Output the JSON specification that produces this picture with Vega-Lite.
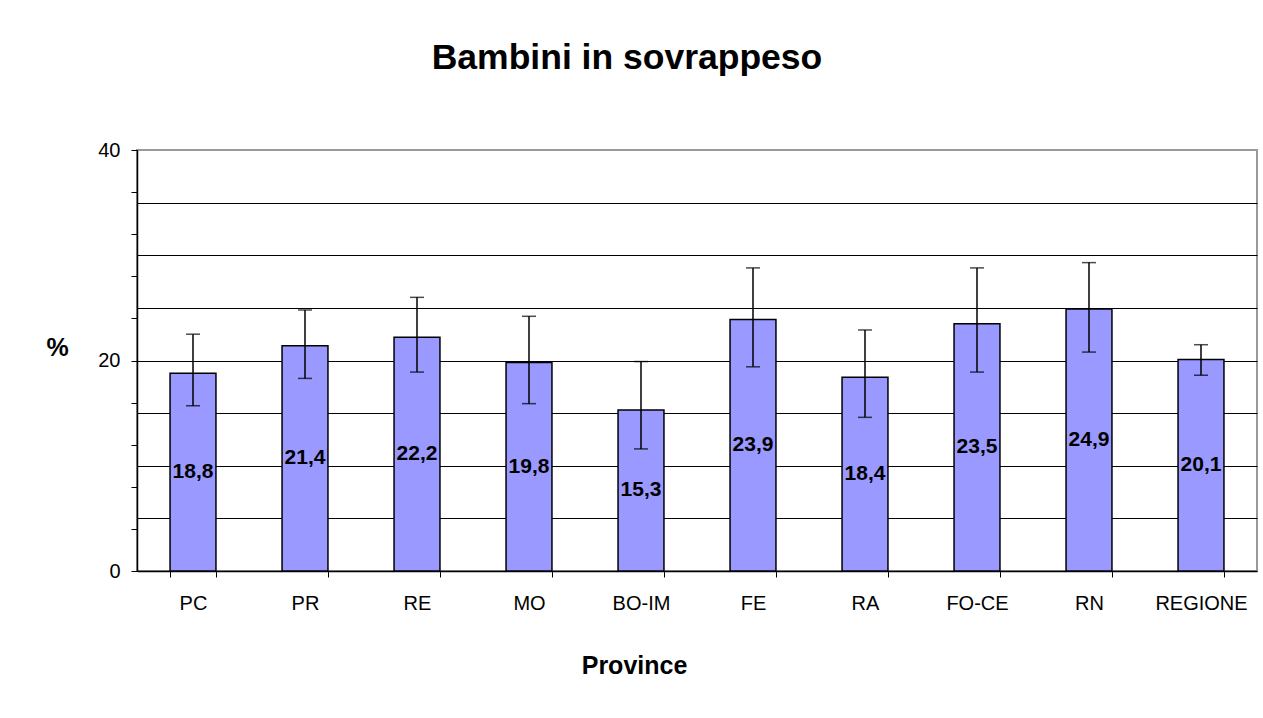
{
  "$schema": "https://vega.github.io/schema/vega-lite/v6.json",
  "autosize": {"type": "none"},
  "width": 1120,
  "height": 421,
  "padding": {"left": 137, "top": 150, "right": 6, "bottom": 147},
  "background": "white",
  "config": {
    "font": "Liberation Sans",
    "view": {"stroke": "#999999", "strokeWidth": 2}
  },
  "title": {
    "text": "Bambini in sovrappeso",
    "fontSize": 35.5,
    "fontWeight": "bold",
    "font": "Liberation Sans",
    "color": "black",
    "anchor": "middle",
    "frame": "group",
    "dx": -70,
    "offset": 64
  },
  "data": {
    "values": [
      {"prov": "PC", "value": 18.8, "label": "18,8", "low": 15.7, "high": 22.5},
      {"prov": "PR", "value": 21.4, "label": "21,4", "low": 18.3, "high": 24.8},
      {"prov": "RE", "value": 22.2, "label": "22,2", "low": 18.9, "high": 26.0},
      {"prov": "MO", "value": 19.8, "label": "19,8", "low": 15.9, "high": 24.2},
      {"prov": "BO-IM", "value": 15.3, "label": "15,3", "low": 11.6, "high": 19.9},
      {"prov": "FE", "value": 23.9, "label": "23,9", "low": 19.4, "high": 28.8},
      {"prov": "RA", "value": 18.4, "label": "18,4", "low": 14.6, "high": 22.9},
      {"prov": "FO-CE", "value": 23.5, "label": "23,5", "low": 18.9, "high": 28.8},
      {"prov": "RN", "value": 24.9, "label": "24,9", "low": 20.8, "high": 29.3},
      {"prov": "REGIONE", "value": 20.1, "label": "20,1", "low": 18.6, "high": 21.5}
    ]
  },
  "encoding": {
    "x": {
      "field": "prov",
      "type": "nominal",
      "sort": null,
      "scale": {"paddingInner": 0.59, "paddingOuter": 0.295},
      "axis": {
        "title": "Province",
        "titleFontSize": 25,
        "titleFontWeight": "bold",
        "titleColor": "black",
        "titleX": 497,
        "titleY": 94,
        "titleBaseline": "middle",
        "titleAlign": "center",
        "labelAngle": 0,
        "labelFontSize": 20,
        "labelColor": "black",
        "labelPadding": 16,
        "tickBand": "extent",
        "tickSize": 6,
        "tickColor": "black",
        "tickWidth": 1,
        "domainColor": "black",
        "domainWidth": 1.5,
        "grid": false
      }
    }
  },
  "layer": [
    {
      "mark": {"type": "text", "opacity": 0},
      "encoding": {
        "y": {"field": "value", "type": "quantitative", "scale": {"domain": [0, 80], "nice": false},
          "axis": {"orient": "left", "title": null, "values": [10, 20, 30, 40, 50, 60, 70], "grid": true, "gridColor": "black", "gridWidth": 1, "labels": false, "ticks": false, "domain": false, "minExtent": 0, "maxExtent": 0, "zindex": 0}},
        "text": {"field": "label", "type": "nominal"}
      }
    },
    {
      "layer": [
        {
          "mark": {"type": "bar", "color": "#9999FF", "stroke": "black", "strokeWidth": 1.5},
          "encoding": {
            "y": {
              "field": "value",
              "type": "quantitative",
              "scale": {"domain": [0, 40], "nice": false},
              "axis": {"orient": "left", "title": "%", "values": [0,1,2,3,4,5,6,7,8,9,10,11,12,13,14,15,16,17,18,19,20,21,22,23,24,25,26,27,28,29,30,31,32,33,34,35,36,37,38,39,40],
                "grid": false,
                "titleAngle": 0,
                "titleFontSize": 25,
                "titleFontWeight": "bold",
                "titleColor": "black",
                "titleX": -80,
                "titleY": 197,
                "titleAlign": "center",
                "titleBaseline": "middle",
                "labelExpr": "datum.value % 5 === 0 ? datum.label : ''",
                "labelOverlap": false,
                "labelFontSize": 20,
                "labelColor": "black",
                "labelPadding": 11,
                "tickSize": 6,
                "tickColor": "black",
                "tickWidth": 1,
                "domainColor": "black",
                "domainWidth": 1.5}
            }
          }
        },
        {
          "mark": {"type": "rule", "color": "black", "strokeWidth": 1.5},
          "encoding": {
            "y": {"field": "low", "type": "quantitative"},
            "y2": {"field": "high"}
          }
        },
        {
          "mark": {"type": "tick", "color": "black", "size": 14, "thickness": 1.5},
          "encoding": {
            "y": {"field": "low", "type": "quantitative"}
          }
        },
        {
          "mark": {"type": "tick", "color": "black", "size": 14, "thickness": 1.5},
          "encoding": {
            "y": {"field": "high", "type": "quantitative"}
          }
        }
      ]
    },
    {
      "mark": {"type": "text", "fontSize": 21, "fontWeight": "bold", "color": "black", "baseline": "middle", "align": "center"},
      "encoding": {
        "y": {"field": "value", "type": "quantitative", "scale": {"domain": [0, 80], "nice": false}, "axis": null},
        "text": {"field": "label", "type": "nominal"}
      }
    }
  ],
  "resolve": {"scale": {"y": "independent"}, "axis": {"y": "independent"}}
}
